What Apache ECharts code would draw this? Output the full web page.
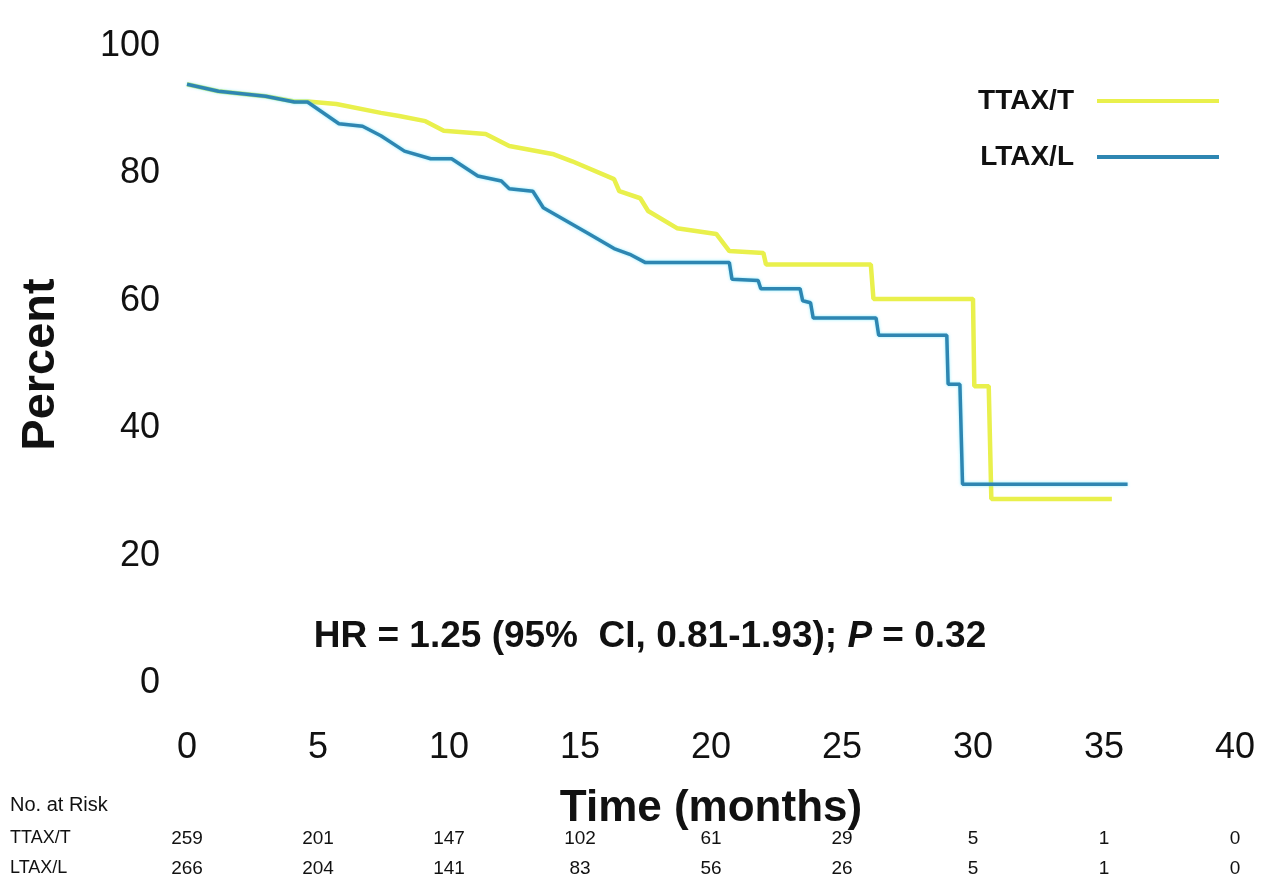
<!DOCTYPE html>
<html>
<head>
<meta charset="utf-8">
<script src="https://cdn.jsdelivr.net/npm/echarts@6.0.0/dist/echarts.min.js"></script>
<style>
html,body{margin:0;padding:0;background:#fff;}
#chart{width:1268px;height:894px;}
</style>
</head>
<body>
<div id="chart"></div>
<script>
// ---- data ----
const xTicks = [0, 5, 10, 15, 20, 25, 30, 35, 40];
const yTicks = [0, 20, 40, 60, 80, 100];

const ttaxTime = [0, 1.2, 3.0, 4.1, 4.6, 5.7, 7.4, 8.1, 9.1, 9.8, 11.4, 12.3, 14.0, 14.7, 16.3, 16.5, 17.3, 17.6, 18.7, 20.2, 20.7, 22.0, 22.1, 26.1, 26.2, 30.0, 30.05, 30.6, 30.7, 35.3];
const ttaxSurv = [94.0, 92.9, 92.1, 91.3, 91.3, 90.9, 89.5, 89.0, 88.2, 86.7, 86.2, 84.3, 83.0, 81.9, 79.1, 77.2, 76.1, 74.1, 71.4, 70.5, 67.8, 67.5, 65.7, 65.7, 60.3, 60.3, 46.6, 46.6, 28.9, 28.9];

const ltaxTime = [0, 1.2, 3.0, 4.1, 4.6, 5.8, 6.7, 7.4, 8.3, 9.3, 10.1, 11.1, 12.0, 12.3, 13.2, 13.6, 14.5, 15.3, 16.3, 16.9, 17.5, 20.7, 20.8, 21.8, 21.9, 23.4, 23.5, 23.8, 23.9, 26.3, 26.4, 29.0, 29.05, 29.5, 29.6, 35.9];
const ltaxSurv = [94.0, 92.9, 92.1, 91.2, 91.2, 87.8, 87.4, 85.9, 83.5, 82.3, 82.3, 79.6, 78.8, 77.6, 77.2, 74.6, 72.5, 70.6, 68.2, 67.3, 66.0, 66.0, 63.4, 63.2, 61.9, 61.9, 60.0, 59.7, 57.3, 57.3, 54.6, 54.6, 46.9, 46.9, 31.2, 31.2];

const riskTtax = [259, 201, 147, 102, 61, 29, 5, 1, 0];
const riskLtax = [266, 204, 141, 83, 56, 26, 5, 1, 0];

const seriesNames = ['TTAX/T', 'LTAX/L'];
const annotation = 'HR = 1.25 (95%  CI, 0.81-1.93); ';
// ---------------------------------------

const FONT = '"Liberation Sans", Arial, sans-serif';
const YELLOW = '#e9f04c';
const BLUE = '#2e86b2';

function pairs(t, p) { return t.map((v, i) => [v, p[i]]); }

const chart = echarts.init(document.getElementById('chart'), null, {renderer: 'canvas'});

function riskAxis(arr, offset) {
  return {
    type: 'value', gridIndex: 0, position: 'bottom', offset: offset,
    min: xTicks[0], max: xTicks[xTicks.length - 1], interval: xTicks[1] - xTicks[0],
    axisLine: {show: false}, axisTick: {show: false}, splitLine: {show: false},
    axisLabel: {
      margin: 0, verticalAlign: 'middle', fontFamily: FONT, fontSize: 19, color: '#111',
      formatter: v => String(arr[Math.round((v - xTicks[0]) / (xTicks[1] - xTicks[0]))])
    }
  };
}

chart.setOption({
  backgroundColor: '#fff',
  animation: false,
  grid: {left: 187, right: 33, top: 46, bottom: 211, containLabel: false, outerBoundsMode: 'none'},
  legend: {
    orient: 'vertical', right: 44, top: 82, align: 'right', itemGap: 28,
    itemWidth: 122, itemHeight: 4, icon: 'rect',
    textStyle: {fontFamily: FONT, fontSize: 28, fontWeight: 'bold', color: '#111', padding: [0, 18, 0, 0]},
    data: seriesNames
  },
  xAxis: [
    {
      type: 'value', min: xTicks[0], max: xTicks[xTicks.length - 1], interval: xTicks[1] - xTicks[0],
      axisLine: {show: false}, axisTick: {show: false}, splitLine: {show: false},
      axisLabel: {margin: 47, fontFamily: FONT, fontSize: 36, color: '#111'},
      name: 'Time (months)', nameLocation: 'middle', nameGap: 104,
      nameTextStyle: {fontFamily: FONT, fontSize: 44, fontWeight: 'bold', color: '#111'}
    },
    riskAxis(riskTtax, 156),
    riskAxis(riskLtax, 186)
  ],
  yAxis: {
    type: 'value', min: yTicks[0], max: yTicks[yTicks.length - 1], interval: yTicks[1] - yTicks[0],
    axisLine: {show: false}, axisTick: {show: false}, splitLine: {show: false},
    axisLabel: {margin: 27, fontFamily: FONT, fontSize: 36, color: '#111'},
    name: 'Percent', nameLocation: 'middle', nameGap: 122, nameRotate: 90,
    nameTextStyle: {fontFamily: FONT, fontSize: 47, fontWeight: 'bold', color: '#111'}
  },
  series: [
    {
      name: seriesNames[0], type: 'line', data: pairs(ttaxTime, ttaxSurv),
      showSymbol: false, symbol: 'none', color: YELLOW,
      lineStyle: {width: 4.5, color: YELLOW}
    },
    {
      name: seriesNames[1], type: 'line', data: pairs(ltaxTime, ltaxSurv),
      showSymbol: false, symbol: 'none', color: BLUE,
      lineStyle: {width: 3.5, color: BLUE, shadowColor: 'rgba(90,230,255,0.7)', shadowBlur: 3}
    }
  ],
  graphic: [
    {
      type: 'text', x: 650, y: 637,
      style: {
        text: '{a|' + annotation + '}{i|P}{a| = 0.32}',
        align: 'center', verticalAlign: 'middle',
        rich: {
          a: {fontFamily: FONT, fontSize: 37, fontWeight: 'bold', fill: '#111'},
          i: {fontFamily: FONT, fontSize: 37, fontWeight: 'bold', fontStyle: 'italic', fill: '#111'}
        }
      }
    },
    {type: 'text', left: 10, top: 795, style: {text: 'No. at Risk', fontFamily: FONT, fontSize: 20, fill: '#111'}},
    {type: 'text', left: 10, top: 829, style: {text: seriesNames[0], fontFamily: FONT, fontSize: 18, fill: '#111'}},
    {type: 'text', left: 10, top: 859, style: {text: seriesNames[1], fontFamily: FONT, fontSize: 18, fill: '#111'}}
  ]
});
</script>
</body>
</html>
